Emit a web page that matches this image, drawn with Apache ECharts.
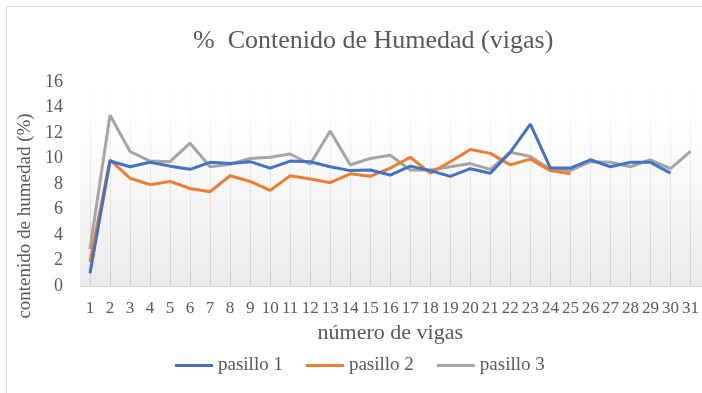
<!DOCTYPE html>
<html>
<head>
<meta charset="utf-8">
<script src="https://cdn.jsdelivr.net/npm/echarts@6/dist/echarts.min.js"></script>
<style>
  html, body { margin: 0; padding: 0; background: #ffffff; }
  #chart { width: 702px; height: 393px; }
</style>
</head>
<body>
<div id="chart"></div>
<script>
// Moisture content per beam, three aisles
const vigas = ['1','2','3','4','5','6','7','8','9','10','11','12','13','14','15','16','17','18','19','20','21','22','23','24','25','26','27','28','29','30','31'];
const pasillo1 = [1.0, 9.8, 9.35, 9.7, 9.4, 9.15, 9.7, 9.6, 9.75, 9.25, 9.8, 9.75, 9.35, 9.05, 9.1, 8.7, 9.4, 9.05, 8.6, 9.2, 8.85, 10.5, 12.7, 9.25, 9.25, 9.9, 9.35, 9.7, 9.7, 8.85];
const pasillo2 = [1.9, 9.9, 8.45, 7.95, 8.2, 7.65, 7.4, 8.65, 8.2, 7.5, 8.65, 8.4, 8.1, 8.8, 8.6, 9.25, 10.1, 8.85, 9.75, 10.7, 10.4, 9.5, 9.95, 9.05, 8.8];
const pasillo3 = [2.9, 13.4, 10.55, 9.8, 9.75, 11.2, 9.35, 9.55, 10.0, 10.1, 10.35, 9.55, 12.15, 9.5, 10.0, 10.25, 9.1, 9.1, 9.35, 9.6, 9.15, 10.5, 10.15, 9.15, 9.05, 9.75, 9.7, 9.35, 9.9, 9.2, 10.55];
const yTicks = { min: 0, max: 16, interval: 2 };

const FONT = "'Liberation Serif', 'Times New Roman', serif";
const TEXT = '#595959';
const GRID = { left: 90, right: 10, top: 82, bottom: 107 };
const W = 702, H = 393;
const plotBottom = H - GRID.bottom;

const chart = echarts.init(document.getElementById('chart'), null, { renderer: 'canvas' });

const option = {
  animation: false,
  backgroundColor: '#ffffff',
  textStyle: { fontFamily: FONT, color: TEXT },
  title: {
    text: '%  Contenido de Humedad (vigas)',
    left: 188,
    top: 23,
    textStyle: { fontFamily: FONT, fontSize: 26, fontWeight: 'normal', color: TEXT }
  },
  legend: {
    data: ['pasillo 1', 'pasillo 2', 'pasillo 3'],
    left: 170,
    top: 351,
    icon: 'rect',
    itemWidth: 38,
    itemHeight: 3,
    itemGap: 23,
    textStyle: { fontFamily: FONT, fontSize: 19, color: TEXT }
  },
  grid: GRID,
  graphic: [
    // chart frame
    { type: 'rect', z: -10, shape: { x: 6.5, y: 6.5, width: 800, height: 500 },
      style: { fill: null, stroke: '#d9d9d9', lineWidth: 1 } },
    // plot area fill
    { type: 'rect', z: -5, shape: { x: GRID.left - 10, y: GRID.top, width: W - GRID.left + 10, height: plotBottom - GRID.top },
      style: { fill: new echarts.graphic.LinearGradient(0, 0, 0, 1, [
        { offset: 0, color: '#ffffff' },
        { offset: 0.18, color: '#ffffff' },
        { offset: 1, color: '#ebebeb' }
      ]) } },
    // category axis baseline
    { type: 'line', z: 5, shape: { x1: GRID.left - 10, y1: plotBottom + 0.5, x2: W, y2: plotBottom + 0.5 },
      style: { stroke: '#d9d9d9', lineWidth: 1 } },
    // value axis title
    { type: 'text', x: 25, y: 216, rotation: Math.PI / 2,
      style: { text: 'contenido de humedad (%)', font: '19px ' + FONT, fill: TEXT,
               textAlign: 'center', textVerticalAlign: 'middle' } }
  ],
  xAxis: {
    type: 'category',
    data: vigas,
    boundaryGap: false,
    name: 'número de vigas',
    nameLocation: 'middle',
    nameGap: 34,
    nameTextStyle: { fontFamily: FONT, fontSize: 22, color: TEXT },
    axisLine: { show: false },
    axisTick: { show: false },
    axisLabel: { interval: 0, margin: 14, fontFamily: FONT, fontSize: 17, color: TEXT },
    splitLine: {
      show: true,
      interval: 0,
      lineStyle: {
        width: 1,
        color: new echarts.graphic.LinearGradient(0, GRID.top, 0, plotBottom, [
          { offset: 0, color: 'rgba(217,217,217,0)' },
          { offset: 0.15, color: 'rgba(217,217,217,0.15)' },
          { offset: 1, color: 'rgba(205,205,205,1)' }
        ], true)
      }
    }
  },
  yAxis: {
    type: 'value',
    min: yTicks.min,
    max: yTicks.max,
    interval: yTicks.interval,
    axisLine: { show: false },
    axisTick: { show: false },
    splitLine: { show: false },
    axisLabel: { margin: 27, fontFamily: FONT, fontSize: 18, color: TEXT }
  },
  series: [
    { name: 'pasillo 1', type: 'line', data: pasillo1, showSymbol: false, symbol: 'none',
      itemStyle: { color: '#4472c4' }, lineStyle: { width: 3, color: '#4472c4' }, z: 4 },
    { name: 'pasillo 2', type: 'line', data: pasillo2, showSymbol: false, symbol: 'none',
      itemStyle: { color: '#ed7d31' }, lineStyle: { width: 3, color: '#ed7d31' }, z: 3 },
    { name: 'pasillo 3', type: 'line', data: pasillo3, showSymbol: false, symbol: 'none',
      itemStyle: { color: '#a5a5a5' }, lineStyle: { width: 3, color: '#a5a5a5' }, z: 2 }
  ]
};

chart.setOption(option);
</script>
</body>
</html>
